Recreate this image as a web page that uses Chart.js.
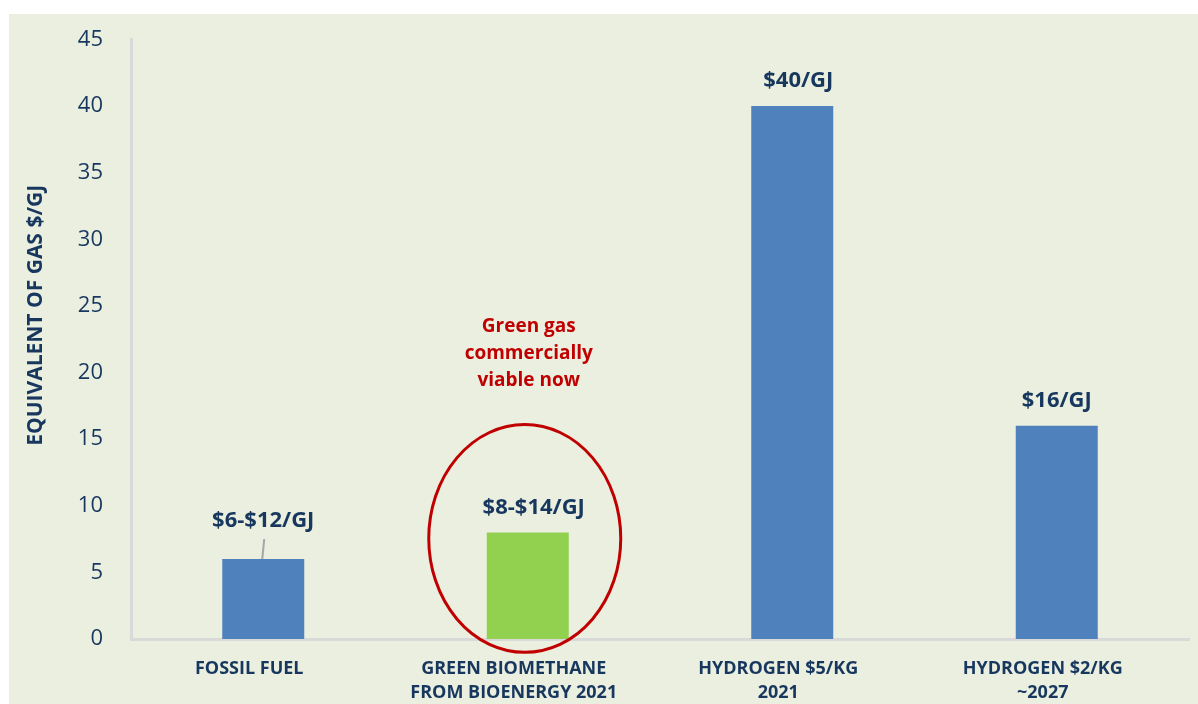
<!DOCTYPE html>
<html>
<head>
<meta charset="utf-8">
<script src="https://cdn.jsdelivr.net/npm/chart.js@4/dist/chart.umd.min.js"></script>
<style>
  body { margin: 0; background: #ffffff; }
  #wrap { position: absolute; left: 9px; top: 14px; width: 1189px; height: 690px; background: #EBEFDF; }
</style>
</head>
<body>
<div id="wrap"><canvas id="gasChart" width="1189" height="690"></canvas></div>
<script>
var categories = [
    ['FOSSIL FUEL'],
    ['GREEN BIOMETHANE', 'FROM BIOENERGY 2021'],
    ['HYDROGEN $5/KG', '2021'],
    ['HYDROGEN $2/KG', '~2027']
];
var costValues = [6, 8, 40, 16];
var costLabels = ['$6-$12/GJ', '$8-$14/GJ', '$40/GJ', '$16/GJ'];
var barColors = ['#4F81BD', '#92D050', '#4F81BD', '#4F81BD'];
var calloutLines = ['Green gas', 'commercially', 'viable now'];
var yTitle = 'EQUIVALENT OF GAS $/GJ';

var navy = '#17375E';
var red = '#C00000';

// labels above the bars, the first one is lifted with a small leader line
var labelPlugin = {
    id: 'barLabels',
    afterDatasetsDraw: function(chart) {
        var ctx = chart.ctx;
        var meta = chart.getDatasetMeta(0);
        var y = chart.scales.y;
        ctx.save();
        ctx.font = 'bold 22px "Open Sans"';
        ctx.fillStyle = navy;
        ctx.textAlign = 'center';
        ctx.textBaseline = 'middle';
        meta.data.forEach(function(bar, i) {
            var off = i === 0 ? 38 : 25;
            ctx.fillText(costLabels[i], bar.x + (i === 1 || i === 2 ? 6 : 0), bar.y - off);
            if (i === 0) {
                ctx.strokeStyle = '#A6A6A6';
                ctx.lineWidth = 2;
                ctx.beginPath();
                ctx.moveTo(bar.x + 1, bar.y - 20);
                ctx.lineTo(bar.x - 1, bar.y);
                ctx.stroke();
            }
        });

        // red ellipse round the biomethane bar
        var g = meta.data[1];
        var top = y.getPixelForValue(16.1);
        var bottom = y.getPixelForValue(-1);
        ctx.strokeStyle = red;
        ctx.lineWidth = 3;
        ctx.beginPath();
        ctx.ellipse(g.x - 3, (top + bottom) / 2, 96, (bottom - top) / 2, 0, 0, Math.PI * 2);
        ctx.stroke();

        // callout text
        ctx.fillStyle = red;
        ctx.font = 'bold 19px "Open Sans"';
        var cy = y.getPixelForValue(21.4);
        calloutLines.forEach(function(t, k) {
            ctx.fillText(t, g.x + 1, cy + (k - 1) * 27);
        });

        // y axis title, a bit above the middle like the original
        ctx.fillStyle = navy;
        ctx.font = 'bold 21px "Open Sans"';
        ctx.translate(27, y.getPixelForValue(24.3));
        ctx.rotate(-Math.PI / 2);
        ctx.fillText(yTitle, 0, 0);
        ctx.restore();
    }
};

var ctx = document.getElementById('gasChart').getContext('2d');
var chart = new Chart(ctx, {
    type: 'bar',
    data: {
        labels: categories,
        datasets: [{
            data: costValues,
            backgroundColor: barColors,
            borderWidth: 0,
            categoryPercentage: 1,
            barPercentage: 0.31
        }]
    },
    options: {
        responsive: false,
        animation: false,
        layout: { padding: { left: 0, right: 9, top: 24, bottom: 0 } },
        plugins: {
            legend: { display: false },
            tooltip: { enabled: false }
        },
        scales: {
            x: {
                grid: { display: false },
                border: { color: '#D9D9D9', width: 3 },
                ticks: {
                    color: navy,
                    font: { family: 'Open Sans', size: 18, weight: 'bold', lineHeight: 1.38 },
                    padding: 9,
                    labelOffset: -14,
                    maxRotation: 0,
                    autoSkip: false
                },
                afterFit: function(s) { s.height = 65; }
            },
            y: {
                min: 0,
                max: 45,
                grid: { display: false },
                border: { color: '#D9D9D9', width: 3 },
                ticks: {
                    stepSize: 5,
                    color: navy,
                    font: { family: 'Open Sans', size: 22, lineHeight: 0.5 },
                    padding: 20
                },
                afterFit: function(s) { s.width = 122; }
            }
        }
    },
    plugins: [labelPlugin]
});
</script>
</body>
</html>
